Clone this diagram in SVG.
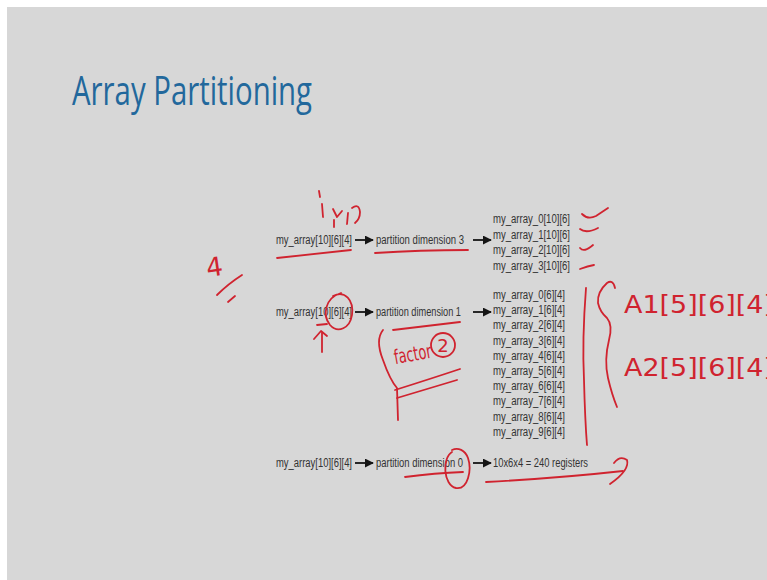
<svg xmlns="http://www.w3.org/2000/svg" width="767" height="580" viewBox="0 0 767 580">
  <defs>
    <marker id="head" viewBox="0 0 10 10" refX="9" refY="5" markerWidth="9" markerHeight="9" markerUnits="userSpaceOnUse" orient="auto">
      <path d="M0,0 L10,5 L0,10 Z" fill="#151515"/>
    </marker>
    <style>
      .t { font-family: "Liberation Sans", Arial, sans-serif; font-size: 12px; fill: #333333; }
      .title { font-family: "Open Sans", "Liberation Sans", sans-serif; font-size: 41px; fill: #22689c; }
      .conn { stroke: #151515; stroke-width: 1.8; fill: none; marker-end: url(#head); }
      .ink { stroke: #d0232f; stroke-width: 1.8; fill: none; stroke-linecap: round; stroke-linejoin: round; }
      .hand { font-family: "DejaVu Sans", "Liberation Sans", sans-serif; fill: #d0232f; }
    </style>
  </defs>

  <!-- slide page -->
  <rect x="0" y="0" width="767" height="580" fill="#ffffff"/>
  <rect x="7" y="7" width="760" height="573" fill="#d7d7d7"/>

  <g id="title">
    <text class="title" x="72" y="105" textLength="240" lengthAdjust="spacingAndGlyphs">Array Partitioning</text>
  </g>

  <!-- row 1: partition along dimension 3 -->
  <g id="src-dim3"><text class="t" x="276" y="244" textLength="76" lengthAdjust="spacingAndGlyphs">my_array[10][6][4]</text></g>
  <g id="op-dim3"><text class="t" x="376" y="244" textLength="88" lengthAdjust="spacingAndGlyphs">partition dimension 3</text></g>
  <g id="out-dim3">
    <text class="t" x="493" y="223" textLength="77" lengthAdjust="spacingAndGlyphs">my_array_0[10][6]</text>
    <text class="t" x="493" y="238.5" textLength="77" lengthAdjust="spacingAndGlyphs">my_array_1[10][6]</text>
    <text class="t" x="493" y="254" textLength="77" lengthAdjust="spacingAndGlyphs">my_array_2[10][6]</text>
    <text class="t" x="493" y="269.5" textLength="77" lengthAdjust="spacingAndGlyphs">my_array_3[10][6]</text>
  </g>

  <!-- row 2: partition along dimension 1 -->
  <g id="src-dim1"><text class="t" x="276" y="316" textLength="76" lengthAdjust="spacingAndGlyphs">my_array[10][6][4]</text></g>
  <g id="op-dim1"><text class="t" x="376" y="316" textLength="85" lengthAdjust="spacingAndGlyphs">partition dimension 1</text></g>
  <g id="out-dim1">
    <text class="t" x="493" y="299" textLength="72" lengthAdjust="spacingAndGlyphs">my_array_0[6][4]</text>
    <text class="t" x="493" y="314.2" textLength="72" lengthAdjust="spacingAndGlyphs">my_array_1[6][4]</text>
    <text class="t" x="493" y="329.4" textLength="72" lengthAdjust="spacingAndGlyphs">my_array_2[6][4]</text>
    <text class="t" x="493" y="344.6" textLength="72" lengthAdjust="spacingAndGlyphs">my_array_3[6][4]</text>
    <text class="t" x="493" y="359.8" textLength="72" lengthAdjust="spacingAndGlyphs">my_array_4[6][4]</text>
    <text class="t" x="493" y="375" textLength="72" lengthAdjust="spacingAndGlyphs">my_array_5[6][4]</text>
    <text class="t" x="493" y="390.2" textLength="72" lengthAdjust="spacingAndGlyphs">my_array_6[6][4]</text>
    <text class="t" x="493" y="405.4" textLength="72" lengthAdjust="spacingAndGlyphs">my_array_7[6][4]</text>
    <text class="t" x="493" y="420.6" textLength="72" lengthAdjust="spacingAndGlyphs">my_array_8[6][4]</text>
    <text class="t" x="493" y="435.8" textLength="72" lengthAdjust="spacingAndGlyphs">my_array_9[6][4]</text>
  </g>

  <!-- row 3: partition along dimension 0 -->
  <g id="src-dim0"><text class="t" x="276" y="467" textLength="76" lengthAdjust="spacingAndGlyphs">my_array[10][6][4]</text></g>
  <g id="op-dim0"><text class="t" x="376" y="467" textLength="87" lengthAdjust="spacingAndGlyphs">partition dimension 0</text></g>
  <g id="out-dim0"><text class="t" x="493" y="467" textLength="95" lengthAdjust="spacingAndGlyphs">10x6x4 = 240 registers</text></g>

  <g id="connectors">
    <line class="conn" x1="355" y1="240" x2="373" y2="240"/>
    <line class="conn" x1="473" y1="240" x2="491" y2="240"/>
    <line class="conn" x1="355" y1="312" x2="373" y2="312"/>
    <line class="conn" x1="473" y1="312" x2="491" y2="312"/>
    <line class="conn" x1="355" y1="463" x2="373" y2="463"/>
    <line class="conn" x1="473" y1="463" x2="491" y2="463"/>
  </g>

  <!-- red pen annotations -->
  <g id="annotations">
    <!-- left margin -->
    <text class="hand" x="206" y="276" font-size="26" transform="rotate(-8 214 265)">4</text>
    <path class="ink" d="M217,295 Q228,284 242,275"/>
    <path class="ink" d="M228,302 L235,296"/>

    <!-- marks above the first source -->
    <path class="ink" d="M319,191 L320,197"/>
    <path class="ink" d="M322,204 L323,217"/>
    <path class="ink" d="M333,209 L337,217 L342,211"/>
    <path class="ink" d="M334,220 L334,227"/>
    <path class="ink" d="M348,213 L347,224"/>
    <path class="ink" d="M352,208 Q359,203 360,212 Q360,219 355,223"/>

    <!-- row 1 underlines and ticks -->
    <path class="ink" d="M277,258 Q315,254 351,250"/>
    <path class="ink" d="M375,253 Q420,250 468,250"/>
    <path class="ink" d="M582,214 Q588,220 596,216 L608,208"/>
    <path class="ink" d="M580,229 Q586,234 598,228"/>
    <path class="ink" d="M580,248 Q584,253 593,245"/>
    <path class="ink" d="M580,269 Q588,266 594,265"/>

    <!-- row 2 -->
    <path class="ink" d="M333,296 C345,290 354,300 352,315 C350,328 338,334 330,325 C322,315 325,298 341,293"/>
    <path class="ink" d="M322,352 L322,333"/>
    <path class="ink" d="M314,339 L321,331 L327,336"/>
    <path class="ink" d="M317,325 L327,324"/>
    <path class="ink" d="M393,330 L460,322"/>
    <path class="ink" d="M383,330 Q375,340 383,360 Q390,380 397,388 L398,420"/>
    <path class="ink" d="M395,390 Q430,379 460,369"/>
    <path class="ink" d="M397,398 Q430,388 457,380"/>
    <text class="hand" x="393" y="361" font-size="20" textLength="38" lengthAdjust="spacingAndGlyphs" transform="rotate(-10 412 350)">factor</text>
    <circle class="ink" cx="443" cy="345" r="12"/>
    <text class="hand" x="443" y="352" font-size="18" text-anchor="middle">2</text>

    <!-- split bracket and the two halves -->
    <path class="ink" d="M586,288 Q582,340 584,380 Q585,420 587,445"/>
    <path class="ink" d="M615,288 Q613,279 607,283 Q597,292 598,303 Q600,312 607,318 Q613,325 609,340 Q604,360 608,378 Q612,395 617,407"/>
    <text class="hand" x="624" y="313" font-size="25" textLength="150" lengthAdjust="spacingAndGlyphs">A1[5][6][4]</text>
    <text class="hand" x="624" y="376" font-size="25" textLength="150" lengthAdjust="spacingAndGlyphs">A2[5][6][4]</text>

    <!-- row 3 -->
    <path class="ink" d="M405,477 Q435,473 463,472"/>
    <path class="ink" d="M452,452 C442,458 443,485 456,488 C468,490 472,470 468,458 C465,450 458,447 452,450"/>
    <path class="ink" d="M486,482 Q560,478 623,471"/>
    <path class="ink" d="M614,463 Q620,455 627,460 Q630,470 610,484"/>
  </g>
</svg>
